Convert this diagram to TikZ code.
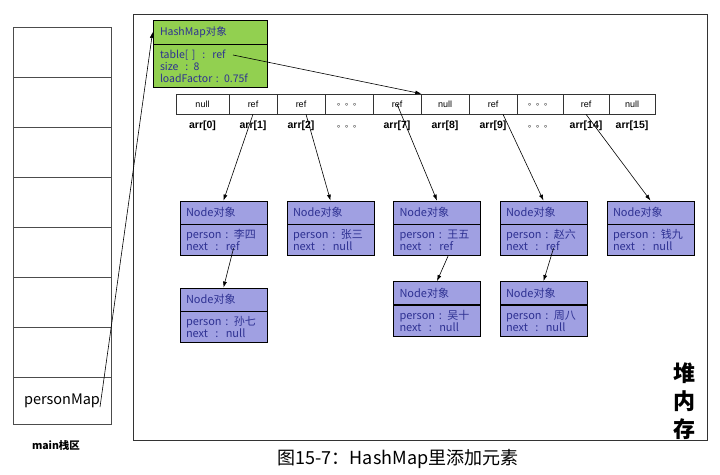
\documentclass[tikz,border=0pt]{standalone}
\usepackage{fontspec}
\setmainfont{Liberation Sans}
\newfontfamily\cjk{Noto Sans CJK SC}
\usetikzlibrary{positioning, arrows.meta, calc}

\definecolor{objgreen}{RGB}{146,208,80}
\definecolor{objblue}{RGB}{160,160,226}
\definecolor{objtext}{RGB}{46,49,146}

\newcommand{\celldots}{\raisebox{-2.5pt}{\normalfont\cjk\fontsize{8}{8}\selectfont 。。。}}

\begin{document}
\begin{tikzpicture}[x=1pt, y=-1pt,
    stackcell/.style={rectangle, draw=black!70, line width=0.8pt,
                minimum width=98pt, minimum height=50pt, inner sep=0pt},
    cell/.style={rectangle, draw=black!80, line width=0.6pt, minimum width=48pt,
                minimum height=20pt, inner sep=0pt, font=\fontsize{9}{10}\selectfont},
    idx/.style={font=\bfseries\fontsize{10.5}{12}\selectfont},
    objhead/.style={rectangle, draw=black, line width=0.8pt, fill=objblue, text=objtext,
                minimum height=23pt, text width=75pt, inner xsep=6pt, inner ysep=2pt,
                align=left, font=\cjk\fontsize{11}{12}\selectfont},
    objbody/.style={objhead, minimum height=31pt},
    ptr/.style={-{Latex[length=6pt, width=4pt]}, line width=0.6pt}
]
    \useasboundingbox (0,0) rectangle (720,474);

    % Stack
    \foreach \i in {0,...,6}
        \node[stackcell] (s\i) at (62, 52+50*\i) {};
    \node[stackcell, minimum height=47pt, font=\cjk\fontsize{14.5}{16}\selectfont] (pm) at (62, 400.5) {personMap};
    \node[font=\cjk\bfseries\fontsize{10.5}{12}\selectfont] (stacklbl) at (56, 446) {main栈区};

    % Heap
    \node[rectangle, draw=black!80, line width=1pt, minimum width=574pt,
          minimum height=426pt, inner sep=0pt] (heap) at (420, 227) {};
    \node[font=\cjk\bfseries\fontsize{22}{28}\selectfont, align=center] (heaplbl) at (684, 401) {堆\\内\\存};

    % HashMap object
    \node[objhead, fill=objgreen, text width=100pt, inner xsep=7pt, minimum height=24pt,
          font=\cjk\fontsize{10.5}{12}\selectfont] (hm) at (210, 32) {HashMap对象};
    \node[objbody, fill=objgreen, text width=100pt, inner xsep=7pt, minimum height=43pt,
          font=\cjk\fontsize{10.5}{12}\selectfont, below=0pt of hm] (hmb) {
        table[ ]\ \ :\ \ ref\\
        size\ \ : 8\\
        loadFactor : 0.75f
    };

    % Array
    \foreach \name/\cx/\w/\txt/\lbl in {
        a0/202.5/53/null/{arr[0]}, a1/253/48/ref/{arr[1]}, a2/301/48/ref/{arr[2]},
        a3/349/48/\celldots/\celldots,
        a4/397/48/ref/{arr[7]}, a5/445/48/null/{arr[8]}, a6/493/48/ref/{arr[9]},
        a7/540/46/\celldots/\celldots,
        a8/586/46/ref/{arr[14]}, a9/632/46/null/{arr[15]}}
    {
        \node[cell, minimum width=\w pt] (\name) at (\cx, 104) {\txt};
        \node[idx] (\name l) at (\cx, 126) {\lbl};
    }

    % Node objects, first row
    \node[objhead] (n1) at (223.5, 212.5) {Node对象};
    \node[objbody, below=0pt of n1] (n1b) {person : 李四\\next\ \ :\ \ ref};
    \node[objhead] (n2) at (330.5, 212.5) {Node对象};
    \node[objbody, below=0pt of n2] (n2b) {person : 张三\\next\ \ :\ \ null};
    \node[objhead] (n3) at (437, 212.5) {Node对象};
    \node[objbody, below=0pt of n3] (n3b) {person : 王五\\next\ \ :\ \ ref};
    \node[objhead] (n4) at (543.5, 212.5) {Node对象};
    \node[objbody, below=0pt of n4] (n4b) {person : 赵六\\next\ \ :\ \ ref};
    \node[objhead] (n5) at (650.5, 212.5) {Node对象};
    \node[objbody, below=0pt of n5] (n5b) {person : 钱九\\next\ \ :\ \ null};

    % Node objects, second row
    \node[objhead] (n6) at (223.5, 299.5) {Node对象};
    \node[objbody, below=0pt of n6] (n6b) {person : 孙七\\next\ \ :\ \ null};
    \node[objhead] (n7) at (437, 293) {Node对象};
    \node[objbody, below=0pt of n7] (n7b) {person : 吴十\\next\ \ :\ \ null};
    \node[objhead] (n8) at (543.5, 293) {Node对象};
    \node[objbody, below=0pt of n8] (n8b) {person : 周八\\next\ \ :\ \ null};

    % References
    \coordinate (pmref) at (100, 407);
    \coordinate (tblref) at (233, 55);
    \draw[ptr] (pmref) -- (hm.west);
    \draw[ptr] (tblref) -- (a4.north east);
    \draw[ptr] (a1.south) -- (n1.north);
    \draw[ptr] ($(a2.south)+(5,0)$) -- (n2.north);
    \draw[ptr] (a4.center) -- (n3.north);
    \draw[ptr] ($(a6.south)+(10,0)$) -- (n4.north);
    \draw[ptr] (a8.south) -- (n5.north);
    \draw[ptr] ($(n1b.center)+(10,8)$) -- (n6.north);
    \draw[ptr] ($(n3b.south)+(11,0)$) -- (n7.north);
    \draw[ptr] ($(n4b.center)+(10,8)$) -- (n8.north);

    % Caption
    \node[font=\cjk\fontsize{18}{20}\selectfont] (caption) at (398, 459) {图15-7：HashMap里添加元素};

\end{tikzpicture}
\end{document}
